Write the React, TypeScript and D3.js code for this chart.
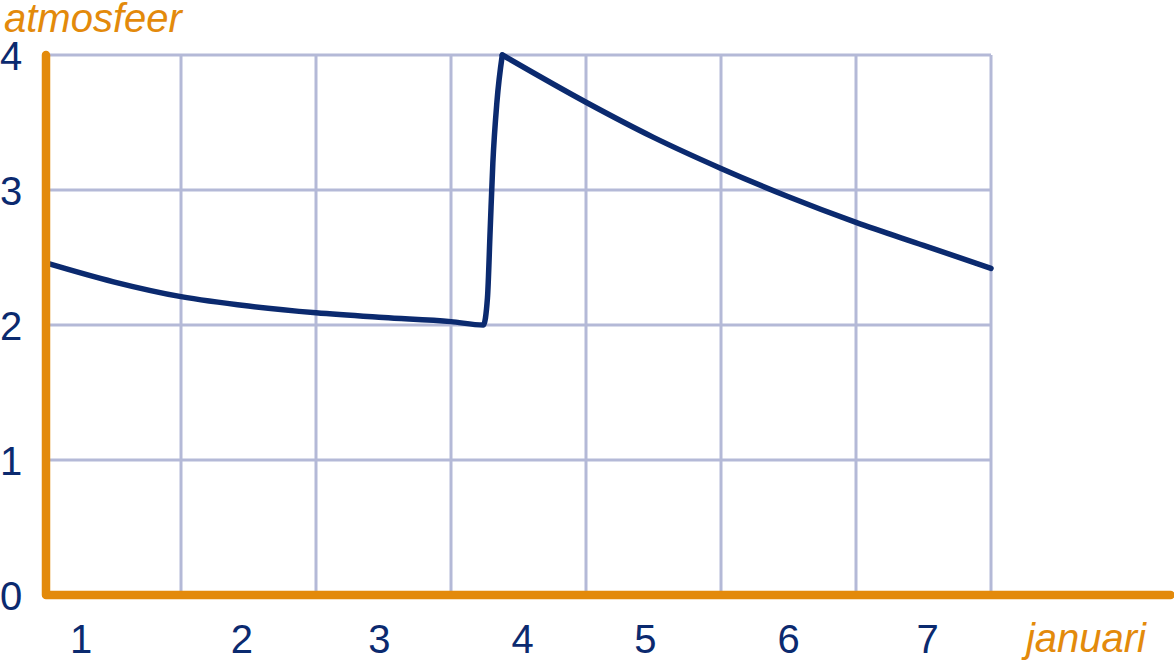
import React, { useRef, useEffect } from 'react';
import * as d3 from 'd3';

// ─── data ──────────────────────────────────────────────
// x in days (0 = start of 1 januari), y in atmosfeer
// rise: slow fall until the front, sharp jump, then slow decay
const riseX = [0, 0.5, 1, 1.5, 2, 2.5, 3, 3.24, 3.27, 3.29, 3.31, 3.34, 3.38];
const riseP = [2.46, 2.32, 2.21, 2.14, 2.09, 2.055, 2.025, 2.0, 2.2, 2.7, 3.2, 3.65, 4.0];
const fallX = [3.38, 4, 4.5, 5, 5.5, 6, 6.5, 7];
const fallP = [4.0, 3.65, 3.39, 3.16, 2.95, 2.76, 2.59, 2.42];

const xGrid = [1, 2, 3, 4, 5, 6, 7];
const yGrid = [1, 2, 3, 4];
const yTicks = [0, 1, 2, 3, 4];
const dayLabels = ['1', '2', '3', '4', '5', '6', '7'];
const dayLabelPos = [0.26, 1.45, 2.47, 3.53, 4.44, 5.5, 6.53];

const ORANGE = '#e38a0b';
const NAVY = '#0b2a6f';
const GRID = '#b4b9d7';
const FONT = 'Liberation Sans, Arial, Helvetica, sans-serif';

const W = 1174;
const H = 663;

export default function App() {
  const svgRef = useRef<SVGSVGElement>(null);

  useEffect(() => {
    document.body.style.margin = '0';
    if (!svgRef.current) return;
    const svg = d3.select(svgRef.current);
    svg.selectAll('*').remove();

    const x = d3.scaleLinear().domain([0, 7]).range([46, 991]);
    const y = d3.scaleLinear().domain([0, 4]).range([595, 55]);

    // grid
    svg.append('g')
      .selectAll('line')
      .data(xGrid)
      .enter()
      .append('line')
      .attr('x1', d => x(d)).attr('x2', d => x(d))
      .attr('y1', y(0)).attr('y2', y(4))
      .attr('stroke', GRID).attr('stroke-width', 3);

    svg.append('g')
      .selectAll('line')
      .data(yGrid)
      .enter()
      .append('line')
      .attr('x1', x(0)).attr('x2', x(7))
      .attr('y1', d => y(d)).attr('y2', d => y(d))
      .attr('stroke', GRID).attr('stroke-width', 3);

    // curve (two pieces so the peak stays sharp)
    const segments: [number[], number[]][] = [[riseX, riseP], [fallX, fallP]];
    segments.forEach(([xs, ps]) => {
      const line = d3.line<number>()
        .x((_, i) => x(xs[i]))
        .y(d => y(d))
        .curve(d3.curveMonotoneX);

      svg.append('path')
        .attr('d', line(ps) ?? '')
        .attr('fill', 'none')
        .attr('stroke', NAVY)
        .attr('stroke-width', 5.5)
        .attr('stroke-linecap', 'round')
        .attr('stroke-linejoin', 'round');
    });

    // axes
    svg.append('path')
      .attr('d', `M${x(0)},${y(4)}L${x(0)},${y(0)}L${x(8.33)},${y(0)}`)
      .attr('fill', 'none')
      .attr('stroke', ORANGE)
      .attr('stroke-width', 8.5)
      .attr('stroke-linecap', 'round')
      .attr('stroke-linejoin', 'round');

    // y tick labels
    svg.append('g')
      .selectAll('text')
      .data(yTicks)
      .enter()
      .append('text')
      .attr('x', 11)
      .attr('y', d => y(d) + 15)
      .attr('text-anchor', 'middle')
      .attr('font-family', FONT)
      .attr('font-size', 40)
      .attr('fill', NAVY)
      .text(d => String(d));

    // day labels
    svg.append('g')
      .selectAll('text')
      .data(dayLabels)
      .enter()
      .append('text')
      .attr('x', (_, i) => x(dayLabelPos[i]))
      .attr('y', 653)
      .attr('text-anchor', 'middle')
      .attr('font-family', FONT)
      .attr('font-size', 40)
      .attr('fill', NAVY)
      .text(d => d);

    // axis titles
    svg.append('text')
      .attr('x', 4).attr('y', 32)
      .attr('font-family', FONT)
      .attr('font-style', 'italic')
      .attr('font-size', 40)
      .attr('fill', ORANGE)
      .text('atmosfeer');

    svg.append('text')
      .attr('x', 1146).attr('y', 652)
      .attr('text-anchor', 'end')
      .attr('font-family', FONT)
      .attr('font-style', 'italic')
      .attr('font-size', 40)
      .attr('fill', ORANGE)
      .text('januari');
  }, []);

  return (
    <svg
      ref={svgRef}
      width={W}
      height={H}
      style={{ display: 'block', background: '#fff' }}
    />
  );
}
